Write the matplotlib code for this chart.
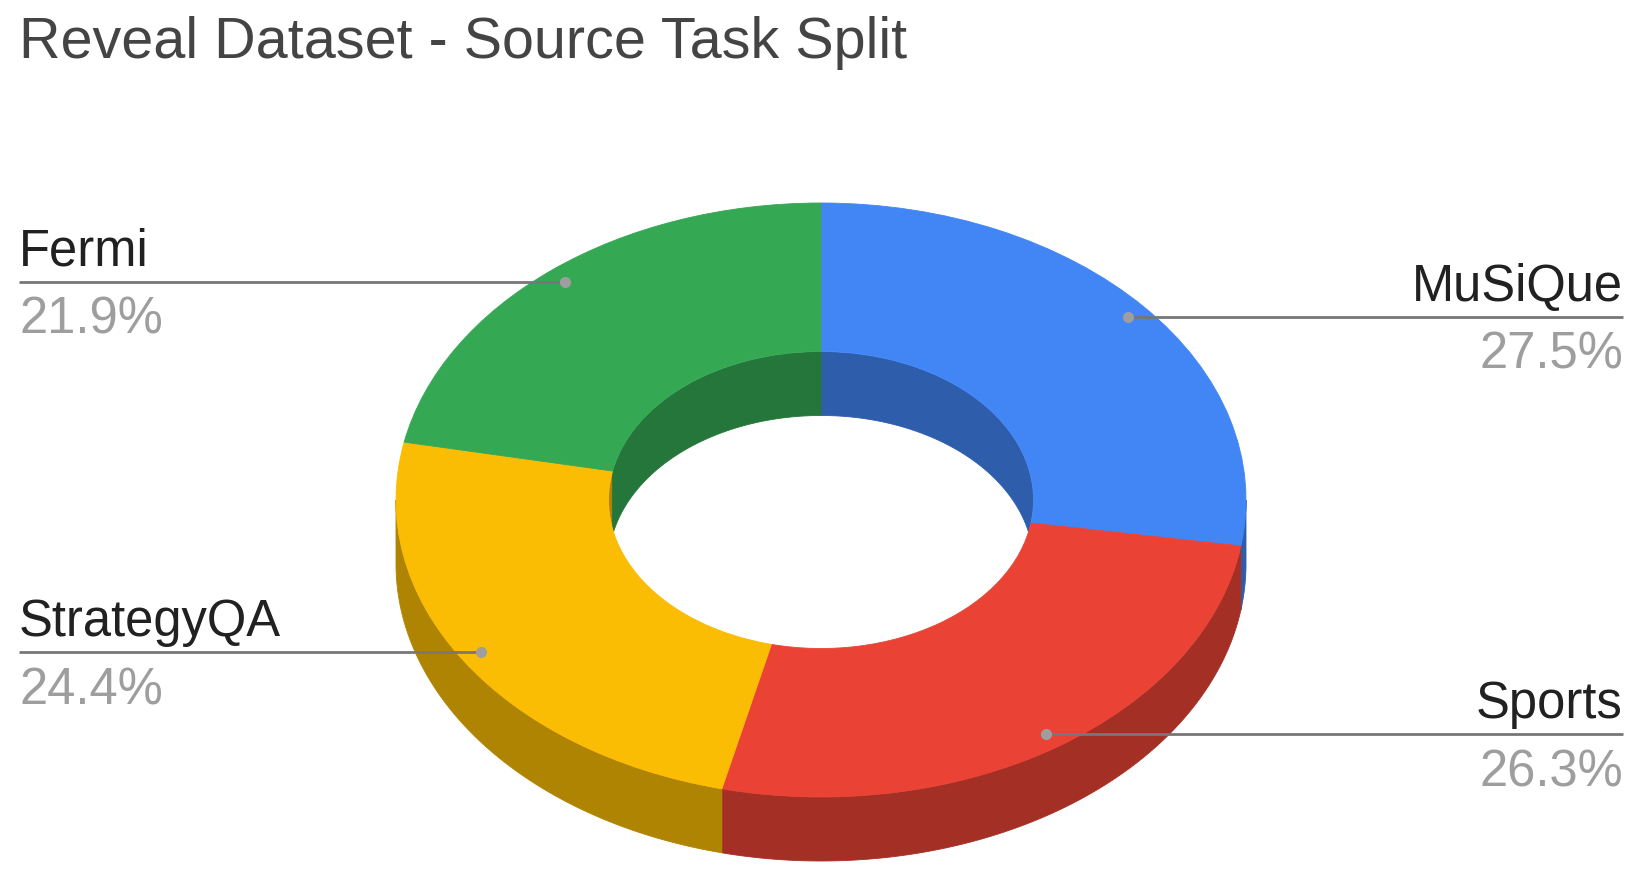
import numpy as np
import matplotlib
matplotlib.use("Agg")
import matplotlib.pyplot as plt
from matplotlib.patches import Polygon, Ellipse

# ---- data ----
title = "Reveal Dataset - Source Task Split"
labels = ["MuSiQue", "Sports", "StrategyQA", "Fermi"]
values = [27.5, 26.3, 24.4, 21.9]
pct_labels = ["27.5%", "26.3%", "24.4%", "21.9%"]
colors = ["#4285F4", "#EA4335", "#FBBC04", "#34A853"]
side_colors = ["#2E5DAB", "#A42F25", "#B08403", "#24763A"]

plt.rcParams['font.family'] = ['Liberation Sans', 'DejaVu Sans']

W, H = 1644, 883
fig = plt.figure(figsize=(W / 100, H / 100), dpi=100)

# geometry of the tilted donut (pixels)
CX, CY = 821, 500
A, B = 425, 297
DEPTH = 64
HOLE = 0.5
d = DEPTH / B

ax = fig.add_axes([0, 0, 1, 1])
wedges, _ = ax.pie(values, colors=colors, startangle=90, counterclock=False,
                   radius=1, wedgeprops=dict(width=1 - HOLE, linewidth=0.6))
for w in wedges:
    w.set_edgecolor(w.get_facecolor())
    w.set_zorder(3)
ax.set_aspect('auto')
ax.set_xlim(-CX / A, (W - CX) / A)
ax.set_ylim(-(H - CY) / B, CY / B)
ax.axis('off')

frac = np.array(values) / np.sum(values)
ends = np.cumsum(frac) * 360.0
starts = ends - frac * 360.0

hole_clip = Ellipse((0, 0), 2 * HOLE, 2 * HOLE, transform=ax.transData)


def band(lo, hi, r):
    th = np.radians(np.linspace(lo, hi, 200))
    xs = r * np.sin(th)
    ys = r * np.cos(th)
    top = np.column_stack([xs, ys])
    bot = np.column_stack([xs, ys - d])[::-1]
    return np.vstack([top, bot])


for s, e, sc in zip(starts, ends, side_colors):
    # outer near wall (lower half, 90..270 deg clockwise from top)
    lo, hi = max(s, 90), min(e, 270)
    if lo < hi:
        ax.add_patch(Polygon(band(lo, hi, 1.0), closed=True, facecolor=sc,
                             edgecolor=sc, lw=0.6, zorder=1))
    # inner far wall (upper half)
    for rlo, rhi in [(0, 90), (270, 360)]:
        lo, hi = max(s, rlo), min(e, rhi)
        if lo < hi:
            p = Polygon(band(lo, hi, HOLE), closed=True, facecolor=sc,
                        edgecolor=sc, lw=0.6, zorder=2)
            ax.add_patch(p)
            p.set_clip_path(hole_clip)

# ---- overlay in pixel coordinates for labels ----
ax2 = fig.add_axes([0, 0, 1, 1])
ax2.set_xlim(0, W)
ax2.set_ylim(H, 0)
ax2.axis('off')
ax2.patch.set_visible(False)

ax2.text(19, 58, title, fontsize=41.4, color="#444444", ha='left', va='baseline')

LEFT_X, RIGHT_X = 19, 1623
for lab, pct, s, e in zip(labels, pct_labels, starts, ends):
    mid = np.radians((s + e) / 2)
    dx = CX + A * 0.95 * np.sin(mid)
    dy = CY - B * 0.95 * np.cos(mid)
    if np.sin(mid) >= 0:
        x0, x1, tx, ha = dx, RIGHT_X, RIGHT_X, 'right'
    else:
        x0, x1, tx, ha = LEFT_X, dx, LEFT_X, 'left'
    ax2.plot([x0, x1], [dy, dy], color="#777777", lw=2.0,
             solid_capstyle='butt', zorder=5)
    ax2.plot([dx], [dy], marker='o', ms=8, color="#9E9E9E", mew=0, zorder=6)
    ax2.text(tx, dy - 16, lab, fontsize=36.5, color="#212121", ha=ha,
             va='baseline')
    ax2.text(tx, dy + 52, pct, fontsize=36.5, color="#9E9E9E", ha=ha,
             va='baseline')

fig.savefig("out.png", dpi=100)
